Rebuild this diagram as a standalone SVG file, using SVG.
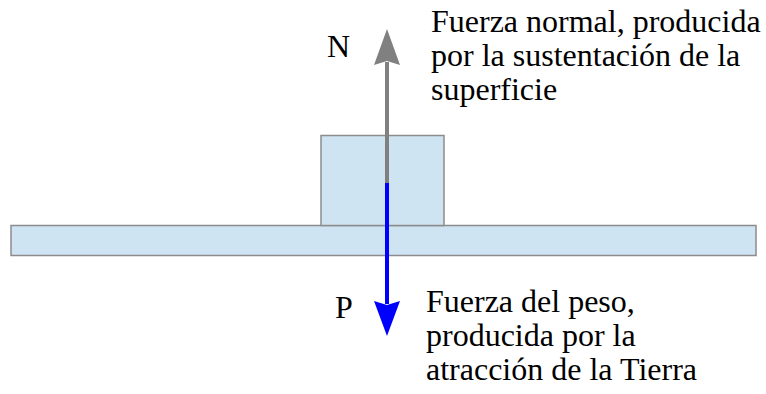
<svg xmlns="http://www.w3.org/2000/svg" width="766" height="394" viewBox="0 0 766 394">
<style>
.body{fill:#cfe4f3;stroke:#8c8c8c;stroke-width:1.5}
.lbl{font-family:"Liberation Serif","Times New Roman",serif;font-size:32px;fill:#000}
</style>
<rect width="766" height="394" fill="#fff"/>
<g id="superficie"><rect class="body" x="11" y="225.5" width="745" height="30"/></g>
<g id="bloque"><rect class="body" x="321" y="135.5" width="123" height="90"/></g>
<g id="connectors">
<g id="normal">
<line x1="387" y1="183" x2="387" y2="62" stroke="#808080" stroke-width="4"/>
<polygon points="387,29 400,65 387,61 374,65" fill="#808080"/>
</g>
<g id="peso">
<line x1="387" y1="183" x2="387" y2="304" stroke="#0000ff" stroke-width="4"/>
<polygon points="387,336 400,301 387,305 374,301" fill="#0000ff"/>
</g>
</g>
<g id="label-N"><text class="lbl" x="327" y="57">N</text></g>
<g id="label-P"><text class="lbl" x="335" y="318">P</text></g>
<g id="texto-normal">
<text class="lbl" x="431" y="32">Fuerza normal, producida</text>
<text class="lbl" x="431" y="66">por la sustentación de la</text>
<text class="lbl" x="431" y="100">superficie</text>
</g>
<g id="texto-peso">
<text class="lbl" x="426" y="312">Fuerza del peso,</text>
<text class="lbl" x="426" y="346">producida por la</text>
<text class="lbl" x="426" y="380">atracción de la Tierra</text>
</g>
</svg>
